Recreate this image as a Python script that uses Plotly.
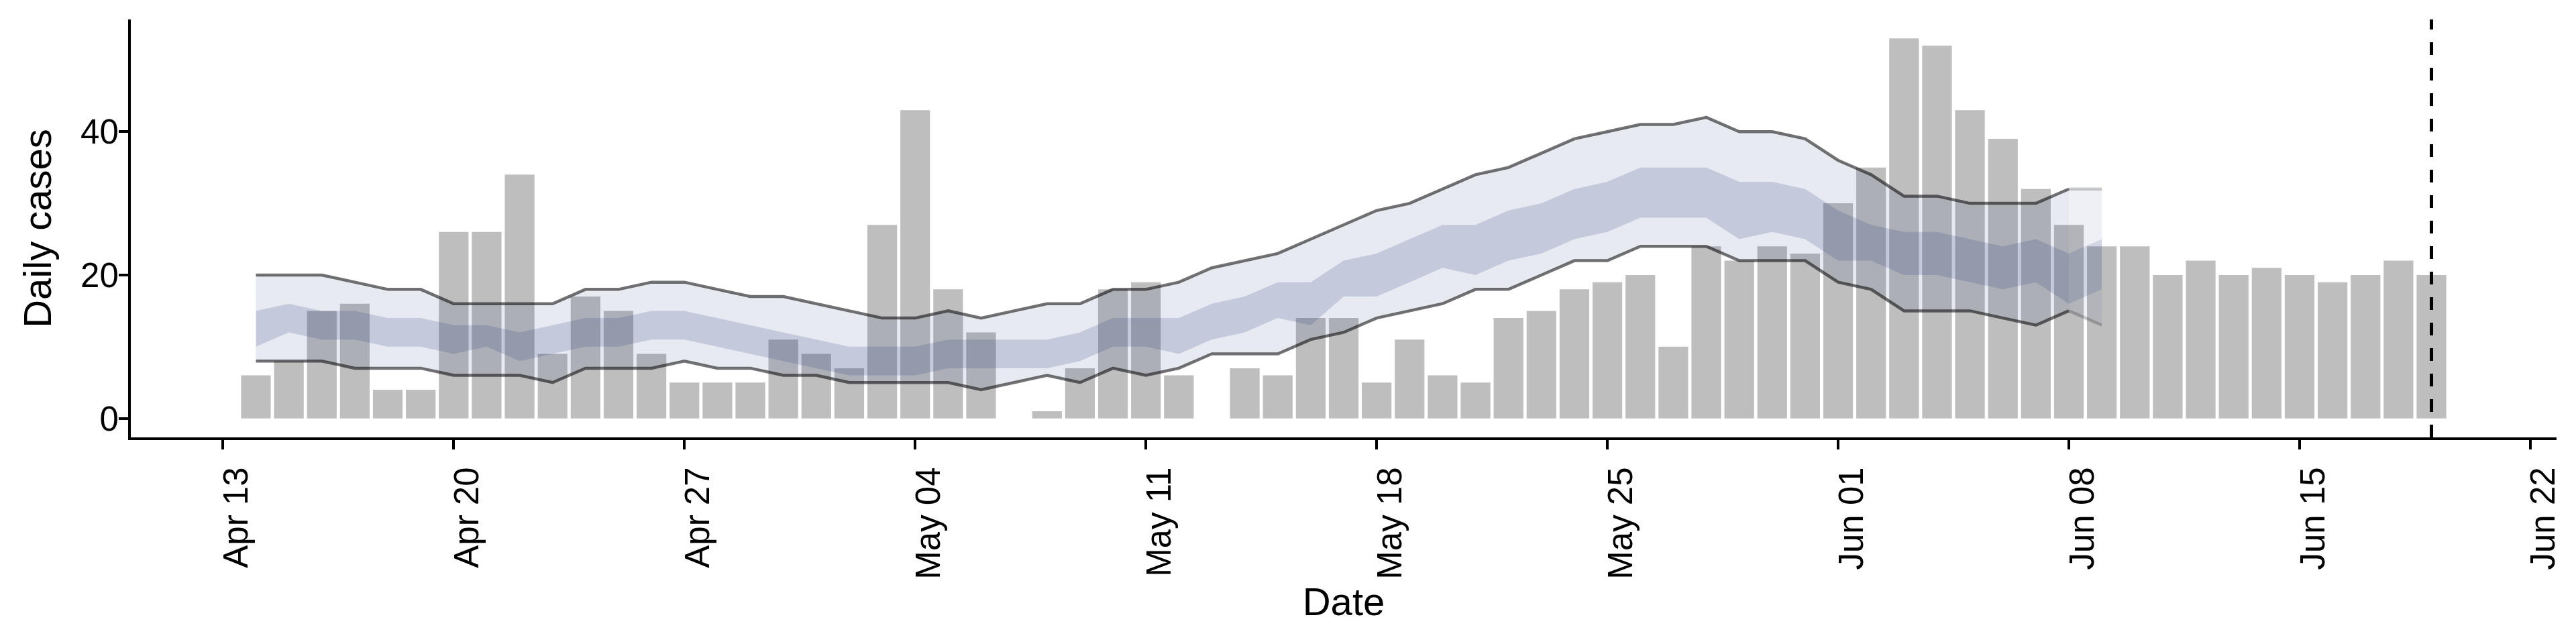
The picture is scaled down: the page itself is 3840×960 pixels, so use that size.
import pandas as pd
import plotly.graph_objects as go

# ----------------------------
# DATA
# ----------------------------
# daily reported cases, Apr 14 .. Jun 19 2020
cases = [
    6, 8, 15, 16, 4, 4, 26, 26, 34, 9, 17, 15, 9, 5, 5, 5, 11, 9, 7, 27,
    43, 18, 12, 0, 1, 7, 18, 19, 6, 0, 7, 6, 14, 14, 5, 11, 6, 5, 14, 15,
    18, 19, 20, 10, 24, 22, 24, 23, 30, 35, 53, 52, 43, 39, 32, 27, 24, 24, 20, 22,
    20, 21, 20, 19, 20, 22, 20,
]
case_start = "2020-04-14"

# estimated cases, Apr 14 .. Jun 9 (last day = partial data)
upper_90 = [
    20, 20, 20, 19, 18, 18, 16, 16, 16, 16, 18, 18, 19, 19, 18, 17, 17, 16, 15,
    14, 14, 15, 14, 15, 16, 16, 18, 18, 19, 21, 22, 23, 25, 27, 29, 30, 32, 34, 35,
    37, 39, 40, 41, 41, 42, 40, 40, 39, 36, 34, 31, 31, 30, 30, 30, 32, 32,
]
lower_90 = [
    8, 8, 8, 7, 7, 7, 6, 6, 6, 5, 7, 7, 7, 8, 7, 7, 6, 6, 5,
    5, 5, 5, 4, 5, 6, 5, 7, 6, 7, 9, 9, 9, 11, 12, 14, 15, 16, 18, 18,
    20, 22, 22, 24, 24, 24, 22, 22, 22, 19, 18, 15, 15, 15, 14, 13, 15, 13,
]
upper_50 = [
    15, 16, 15, 15, 14, 14, 13, 13, 12, 13, 14, 14, 15, 15, 14, 13, 12, 11, 10,
    10, 10, 11, 11, 11, 11, 12, 14, 14, 14, 16, 17, 19, 19, 22, 23, 25, 27, 27, 29,
    30, 32, 33, 35, 35, 35, 33, 33, 32, 29, 27, 26, 26, 25, 24, 25, 23, 25,
]
lower_50 = [
    10, 12, 11, 11, 10, 10, 9, 10, 8, 9, 10, 10, 11, 11, 10, 9, 8, 7, 6,
    6, 6, 7, 7, 7, 7, 8, 10, 10, 9, 11, 12, 14, 13, 17, 17, 19, 21, 20, 22,
    23, 25, 26, 28, 28, 28, 25, 26, 25, 22, 22, 20, 20, 19, 18, 19, 16, 18,
]
partial_days = 1  # last estimate day is based on partial data

tick_dates = ["2020-04-13", "2020-04-20", "2020-04-27", "2020-05-04", "2020-05-11", "2020-05-18",
              "2020-05-25", "2020-06-01", "2020-06-08", "2020-06-15", "2020-06-22"]
tick_labels = ["Apr 13", "Apr 20", "Apr 27", "May 04", "May 11", "May 18",
               "May 25", "Jun 01", "Jun 08", "Jun 15", "Jun 22"]

case_dates = pd.date_range(case_start, periods=len(cases))
est_dates = pd.date_range(case_start, periods=len(upper_90))
last_date = case_dates[-1]

FONT = "Liberation Sans, Arial, Helvetica, sans-serif"
DAY_MS = 86400000


def band(x, lo, hi, color):
    x = list(x)
    return go.Scatter(
        x=x + x[::-1],
        y=list(hi) + list(lo)[::-1],
        fill="toself",
        fillcolor=color,
        mode="lines",
        line=dict(width=0),
        hoverinfo="skip",
    )


def edge(x, y, alpha):
    return go.Scatter(
        x=list(x), y=list(y), mode="lines",
        line=dict(color=f"rgba(0,0,0,{alpha})", width=4.5),
        hoverinfo="skip",
    )


# ----------------------------
# PLOT
# ----------------------------
fig = go.Figure()

fig.add_trace(go.Bar(
    x=case_dates, y=cases, width=0.9 * DAY_MS,
    marker=dict(color="#bebebe", line=dict(width=0)),
))

n = len(upper_90) - partial_days  # index of last full estimate
full = slice(0, n)
part = slice(n - 1, len(upper_90))

fig.add_trace(band(est_dates[full], lower_90[full], upper_90[full], "rgba(32,59,125,0.105)"))
fig.add_trace(band(est_dates[full], lower_50[full], upper_50[full], "rgba(32,59,125,0.175)"))
fig.add_trace(band(est_dates[part], lower_90[part], upper_90[part], "rgba(32,59,125,0.08)"))
fig.add_trace(band(est_dates[part], lower_50[part], upper_50[part], "rgba(32,59,125,0.14)"))

fig.add_trace(edge(est_dates[full], upper_90[full], 0.55))
fig.add_trace(edge(est_dates[full], lower_90[full], 0.55))
fig.add_trace(edge(est_dates[part], upper_90[part], 0.2))
fig.add_trace(edge(est_dates[part], lower_90[part], 0.2))

# last date of data
fig.add_shape(
    type="line", xref="x", yref="paper",
    x0=last_date, x1=last_date, y0=0, y1=1,
    line=dict(color="black", width=5, dash="19px,19px"),
)

axis_common = dict(
    showline=True, linecolor="black", linewidth=4,
    ticks="outside", ticklen=14, tickwidth=4, tickcolor="black",
    showgrid=False, zeroline=False,
    tickfont=dict(family=FONT, size=51, color="black"),
)

# page body has an 8px margin, so the figure is a little smaller than the window
fig.update_layout(
    width=3832, height=952,
    margin=dict(l=187, r=29, t=21, b=308),
    plot_bgcolor="white", paper_bgcolor="white",
    showlegend=False,
    font=dict(family=FONT, color="black"),
    xaxis=dict(
        type="date",
        range=["2020-04-10 04:55", "2020-06-22 19:05"],
        tickvals=tick_dates, ticktext=tick_labels,
        tickangle=-90,
        ticklabelshift=20,
        ticklabelstandoff=6,
        title=dict(text="Date", font=dict(family=FONT, size=58, color="black"), standoff=2),
        **axis_common,
    ),
    yaxis=dict(
        range=[-2.65, 55.65],
        tickvals=[0, 20, 40],
        ticklabelstandoff=-10,
        title=dict(text="Daily cases", font=dict(family=FONT, size=58, color="black"), standoff=26),
        **axis_common,
    ),
)

fig.write_html("out.html")
